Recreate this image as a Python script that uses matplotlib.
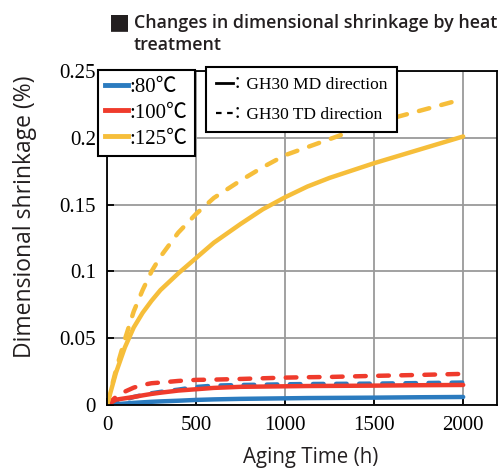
import numpy as np
import matplotlib
matplotlib.use("Agg")
import matplotlib.pyplot as plt
from matplotlib.lines import Line2D

# Aging time (h)
hours = [0, 50, 100, 150, 200, 250, 300, 400, 500, 600, 750, 875, 1000, 1125, 1250, 1500, 1750, 2000]

# Dimensional shrinkage (%) (MD = solid, TD = dashed)
md_80 = [0, 0.0006, 0.0011, 0.0016, 0.002, 0.0024, 0.0027, 0.0032, 0.0038, 0.0042,
         0.0046, 0.0048, 0.005, 0.0052, 0.0053, 0.0055, 0.0058, 0.006]
td_80 = [0, 0.002, 0.004, 0.006, 0.0075, 0.0088, 0.0098, 0.0115, 0.0135, 0.0145,
         0.015, 0.0152, 0.0155, 0.0157, 0.0158, 0.016, 0.0164, 0.0168]
md_100 = [0, 0.004, 0.005, 0.006, 0.0072, 0.0083, 0.0092, 0.0108, 0.0118, 0.0128,
          0.0136, 0.0138, 0.014, 0.0142, 0.0143, 0.0145, 0.0148, 0.015]
td_100 = [0, 0.006, 0.010, 0.013, 0.015, 0.0163, 0.0168, 0.018, 0.0188, 0.019,
          0.0195, 0.020, 0.0205, 0.0208, 0.021, 0.0218, 0.0225, 0.0233]
md_125 = [0, 0.024, 0.043, 0.058, 0.069, 0.078, 0.086, 0.0985, 0.110, 0.1215,
          0.1355, 0.1465, 0.1555, 0.1635, 0.170, 0.181, 0.191, 0.201]
td_125 = [0, 0.026, 0.049, 0.070, 0.086, 0.100, 0.111, 0.129, 0.143, 0.155,
          0.168, 0.178, 0.187, 0.193, 0.199, 0.211, 0.220, 0.229]

temp_labels = [":80\u2103", ":100\u2103", ":125\u2103"]
dir_labels = ["\uff1aGH30 MD direction", "\uff1aGH30 TD direction"]
colors = ["#2b7bbf", "#ef3b2c", "#f6be3a"]

serif = ["Liberation Serif", "Noto Sans CJK JP", "DejaVu Serif"]
sans = ["Open Sans", "DejaVu Sans"]
ink = "#231f20"

fig = plt.figure(figsize=(5.04, 4.70), dpi=100)
ax = fig.add_axes([107 / 504, 1 - 405 / 470, 390 / 504, 334 / 470])

series = [(md_80, td_80), (md_100, td_100), (md_125, td_125)]
for (md, td), c in zip(series, colors):
    ax.plot(hours, td, color=c, lw=3.2, dashes=(2.4, 2.8), dash_capstyle="round")
    ax.plot(hours, md, color=c, lw=3.2, solid_capstyle="round", solid_joinstyle="round")

ax.set_xlim(0, 2190)
ax.set_ylim(0, 0.25)
ax.set_xticks([0, 500, 1000, 1500, 2000])
ax.set_yticks([0, 0.05, 0.1, 0.15, 0.2, 0.25])
ax.set_yticklabels(["0", "0.05", "0.1", "0.15", "0.2", "0.25"])
ax.grid(True, color="#9a9a9a", lw=1.3)
ax.set_axisbelow(True)
ax.tick_params(direction="in", length=5, width=1.3, pad=8,
               labelsize=15, labelfontfamily="Liberation Serif")
for s in ax.spines.values():
    s.set_linewidth(1.3)

ax.set_xlabel("Aging Time (h)", family=sans, fontsize=14.8, color=ink, va="top")
ax.xaxis.set_label_coords(0.523, -0.125)
ax.set_ylabel("Dimensional shrinkage (%)", family=sans, fontsize=16.5, color=ink)
ax.yaxis.set_label_coords(-0.179, 0.563)

# temperature legend (colours)
h1 = [Line2D([], [], color=c, lw=3.5) for c in colors]
leg1 = fig.legend(h1, temp_labels, loc="upper left",
                  bbox_to_anchor=(98 / 504, 1 - 70 / 470),
                  prop={"family": serif, "size": 15}, frameon=True, fancybox=False,
                  edgecolor="black", framealpha=1, handlelength=1.1,
                  handletextpad=0.05, borderpad=0.35, labelspacing=0.3,
                  borderaxespad=0)
leg1.get_frame().set_linewidth(1.5)

# direction legend (line styles)
h2 = [Line2D([], [], color="black", lw=2),
      Line2D([], [], color="black", lw=1.6, dashes=(2.5, 2.5))]
leg2 = fig.legend(h2, dir_labels, loc="upper left",
                  bbox_to_anchor=(206 / 504, 1 - 67 / 470),
                  prop={"family": serif, "size": 12.5}, frameon=True, fancybox=False,
                  edgecolor="black", framealpha=1, handlelength=1.0,
                  handletextpad=-0.2, borderpad=0.55, labelspacing=0.8,
                  borderaxespad=0)
leg2.get_frame().set_linewidth(1.5)

fig.text(109 / 504, 1 - 28 / 470, "\u25a0", family=["DejaVu Sans"], fontsize=16,
         color=ink, va="baseline", ha="left")
fig.text(134 / 504, 1 - 28 / 470, "Changes in dimensional shrinkage by heat",
         family=sans, fontweight="semibold", fontsize=12.9, color=ink,
         va="baseline", ha="left")
fig.text(134 / 504, 1 - 50 / 470, "treatment",
         family=sans, fontweight="semibold", fontsize=12.9, color=ink,
         va="baseline", ha="left")

fig.savefig("out.png", dpi=100)
